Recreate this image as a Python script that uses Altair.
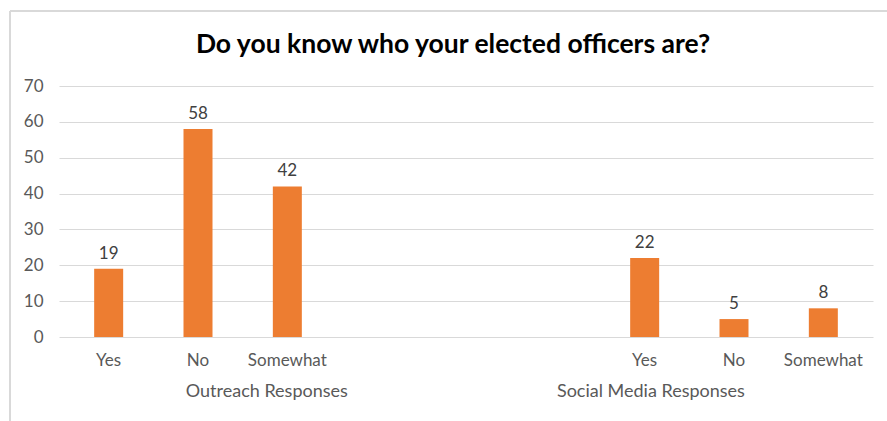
import altair as alt
import pandas as pd

title_text = "Do you know who your elected officers are?"
groups = ["Outreach Responses", "Social Media Responses"]
categories = ["Yes", "No", "Somewhat"]
outreach_values = [19, 58, 42]
social_values = [22, 5, 8]
y_ticks = [0, 10, 20, 30, 40, 50, 60, 70]

# slot layout: 9 slots, blank gap between groups
group_first_slot = [0, 6]
n_slots = 9

rows = []
for g, first, vals in zip(groups, group_first_slot, [outreach_values, social_values]):
    for i, (c, v) in enumerate(zip(categories, vals)):
        rows.append({"group": g, "cat": c, "value": v, "pos": first + i + 0.5})
df = pd.DataFrame(rows)

W, H = 814, 251
FONT = "Lato"
GRAY = "#595959"

x = alt.X("pos:Q", scale=alt.Scale(domain=[0, n_slots]), axis=None)
y = alt.Y("value:Q", scale=alt.Scale(domain=[0, 70], nice=False),
          axis=alt.Axis(values=y_ticks, title=None, domain=False, ticks=False,
                        labelOverlap=False, labelPadding=16, labelFontSize=17,
                        labelColor=GRAY, labelFont=FONT,
                        gridColor="#d9d9d9", gridWidth=1.2))

bars = alt.Chart(df).mark_bar(color="#ED7D31", size=29).encode(x=x, y=y)
labels = alt.Chart(df).mark_text(baseline="bottom", dy=-6, fontSize=17,
                                 color="#404040", font=FONT).encode(
    x=x, y=y, text="value:Q")
cat_labels = alt.Chart(df).mark_text(baseline="middle", fontSize=17,
                                     color=GRAY, font=FONT).encode(
    x=x, y=alt.value(H + 24), text="cat:N")

gdf = pd.DataFrame({"group": groups,
                    "gpos": [2.27, 6.57]})
group_labels = alt.Chart(gdf).mark_text(baseline="middle", fontSize=18,
                                        color=GRAY, font=FONT).encode(
    x=alt.X("gpos:Q", scale=alt.Scale(domain=[0, n_slots]), axis=None),
    y=alt.value(H + 55), text="group:N")

title = alt.Chart(pd.DataFrame({"t": [title_text]})).mark_text(
    fontSize=26.5, fontWeight="bold", font=FONT, color="#000000", baseline="middle").encode(
    x=alt.value(394), y=alt.value(-41), text="t:N")

border_top = alt.Chart(pd.DataFrame({"a": [0]})).mark_rule(color="#d9d9d9", strokeWidth=2).encode(
    x=alt.value(-49), x2=alt.value(830), y=alt.value(-75))
border_left = alt.Chart(pd.DataFrame({"a": [0]})).mark_rule(color="#d9d9d9", strokeWidth=2).encode(
    x=alt.value(-49), y=alt.value(-75), y2=alt.value(340))

chart = alt.layer(border_top, border_left, bars, labels, cat_labels, group_labels, title).properties(
    width=W, height=H,
    autosize=alt.AutoSizeParams(type="none"),
    padding={"left": 59, "top": 86, "right": 14, "bottom": 84},
    background="white",
).configure_view(stroke=None)

chart.save("out.html", embed_options={"renderer": "svg", "actions": False})
